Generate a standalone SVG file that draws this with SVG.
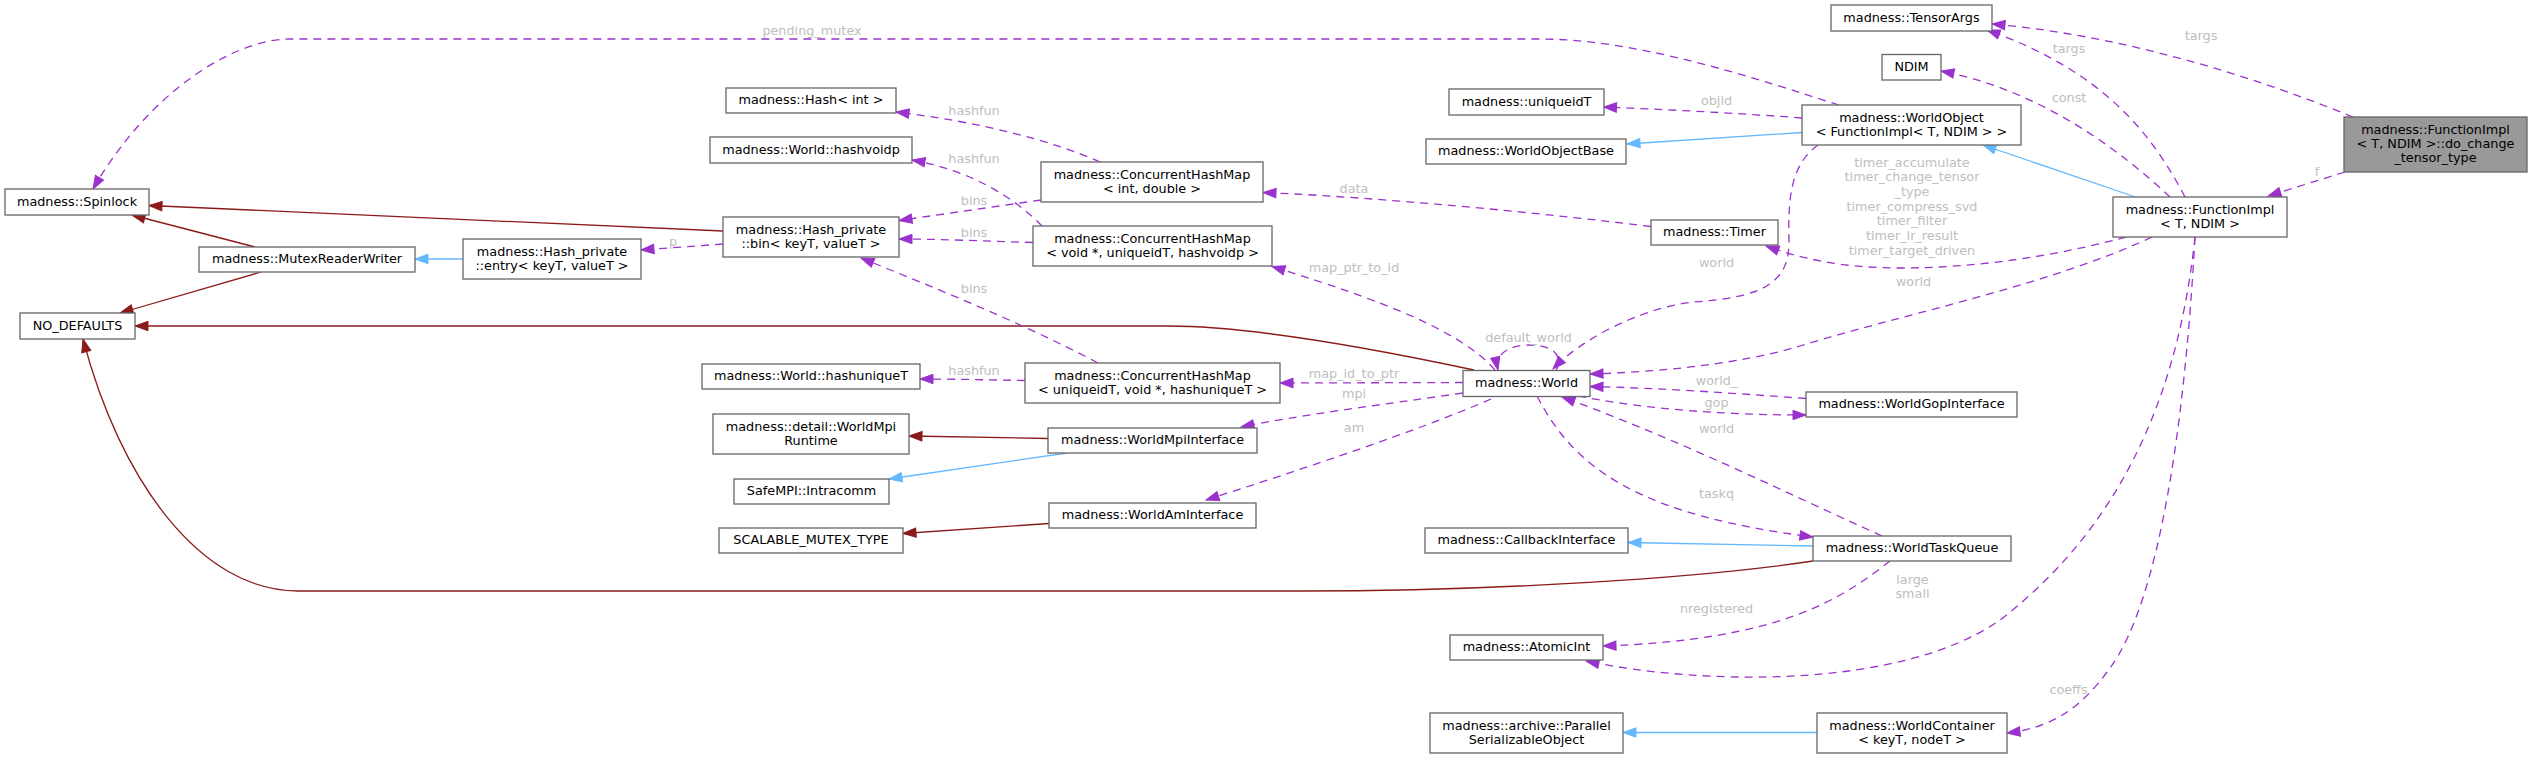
<svg xmlns="http://www.w3.org/2000/svg" width="2532" height="758" viewBox="0 0 2532 758">
<defs>
<style>
.n rect{fill:#fff;stroke:#666;stroke-width:1.3}
.n.main rect{fill:#999}
text{font-family:"DejaVu Sans","Liberation Sans",sans-serif;font-size:12.8px;fill:#000}
.n text{text-anchor:middle}
.lbl{fill:#bebebe;text-anchor:middle}
.e{fill:none;stroke-width:1.3}
.u{stroke:#9a32cd;stroke-dasharray:8,6;marker-end:url(#ap)}
.r{stroke:#8b1a1a;marker-end:url(#ar)}
.b{stroke:#63b8ff;marker-end:url(#ab)}
</style>
<marker id="ap" markerUnits="userSpaceOnUse" markerWidth="15" markerHeight="10" refX="13" refY="5" orient="auto" viewBox="0 0 15 10" overflow="visible"><path d="M0,0.3 L13,5 L0,9.7 Z" fill="#9a32cd" stroke="#9a32cd" stroke-width="1"/></marker>
<marker id="ar" markerUnits="userSpaceOnUse" markerWidth="15" markerHeight="10" refX="13" refY="5" orient="auto" viewBox="0 0 15 10" overflow="visible"><path d="M0,0.3 L13,5 L0,9.7 Z" fill="#8b1a1a" stroke="#8b1a1a" stroke-width="1"/></marker>
<marker id="ab" markerUnits="userSpaceOnUse" markerWidth="15" markerHeight="10" refX="13" refY="5" orient="auto" viewBox="0 0 15 10" overflow="visible"><path d="M0,0.3 L13,5 L0,9.7 Z" fill="#63b8ff" stroke="#63b8ff" stroke-width="1"/></marker>
</defs>
<rect x="0" y="0" width="2532" height="758" fill="#fff"/>

<g id="edges">
<!-- pending_mutex -->
<path class="e u" d="M1839,105 C1760,80 1640,39 1540,39 L290,39 C235,39 150,90 93,189"/>
<text class="lbl" x="812" y="35">pending_mutex</text>
<!-- bin -> Spinlock -->
<path class="e r" d="M723,231 L149,205.5"/>
<!-- MRW -> Spinlock -->
<path class="e r" d="M255,247 L132,215"/>
<!-- MRW -> NO_DEFAULTS -->
<path class="e r" d="M261,272 L120,313"/>
<!-- entry -> MRW -->
<path class="e b" d="M463,259 L415,259"/>
<!-- bin -> entry p -->
<path class="e u" d="M723,244 L641,250"/>
<text class="lbl" x="673" y="245.5">p</text>
<!-- World -> NO_DEFAULTS -->
<path class="e r" d="M1474,370 C1380,350 1250,326 1168,326 L135,326"/>
<!-- TaskQ -> NO_DEFAULTS -->
<path class="e r" d="M1813,561 C1700,578 1500,591 1300,591 L298,591 C200,591 120,480 83,339"/>
<!-- CHMint -> Hash<int> -->
<path class="e u" d="M1100,162 C1050,140 980,122 896,112"/>
<text class="lbl" x="974" y="115">hashfun</text>
<!-- CHMvoid -> hashvoidp -->
<path class="e u" d="M1042,226 C1015,198 970,170 912,160"/>
<text class="lbl" x="974" y="162.5">hashfun</text>
<!-- CHMint -> bin -->
<path class="e u" d="M1041,200 L899,220.5"/>
<text class="lbl" x="974" y="204.5">bins</text>
<!-- CHMvoid -> bin -->
<path class="e u" d="M1033,242.5 C980,241 940,239 899,239"/>
<text class="lbl" x="974" y="237">bins</text>
<!-- CHMuid -> bin -->
<path class="e u" d="M1098,363 C1020,322 940,290 861,258"/>
<text class="lbl" x="974" y="292.5">bins</text>
<!-- CHMuid -> hashuniqueT -->
<path class="e u" d="M1025,380.5 C990,380 960,379 920,379"/>
<text class="lbl" x="974" y="375">hashfun</text>
<!-- Timer -> CHMint data -->
<path class="e u" d="M1651,226.5 C1500,208 1350,196 1263,192.5"/>
<text class="lbl" x="1354" y="193">data</text>
<!-- World -> CHMvoid map_ptr_to_id -->
<path class="e u" d="M1495,370 C1460,330 1380,300 1272,266.5"/>
<text class="lbl" x="1354" y="271.5">map_ptr_to_id</text>
<!-- World -> CHMuid map_id_to_ptr -->
<path class="e u" d="M1463,382.5 L1280,383"/>
<text class="lbl" x="1354" y="377.5">map_id_to_ptr</text>
<!-- World -> MpiIf mpi -->
<path class="e u" d="M1463,393 C1380,405 1300,415 1241,427"/>
<text class="lbl" x="1354" y="398">mpi</text>
<!-- World -> AmIf am -->
<path class="e u" d="M1491,399 C1420,430 1300,470 1206,500"/>
<text class="lbl" x="1354" y="431.5">am</text>
<!-- MpiIf -> Runtime -->
<path class="e r" d="M1048,438.5 L909,436"/>
<!-- MpiIf -> Intracomm -->
<path class="e b" d="M1067,453 L889,479"/>
<!-- AmIf -> SCALABLE -->
<path class="e r" d="M1049,523.5 L903,533.5"/>
<!-- WorldObject -> uniqueidT objid -->
<path class="e u" d="M1802,118 C1750,114 1680,110 1603.5,107"/>
<text class="lbl" x="1716.5" y="104.5">objid</text>
<!-- WorldObject -> WOB -->
<path class="e b" d="M1802,132.5 L1627,144"/>
<!-- WorldObject -> World world -->
<path class="e u" d="M1818,145 C1790,165 1788,200 1789,240 C1790,285 1760,297 1694,302 C1640,308 1580,340 1553,369"/>
<text class="lbl" x="1716.5" y="267">world</text>
<!-- World self loop default_world -->
<path class="e u" d="M1556,371 C1565,352 1548,345 1530,345 C1512,345 1494,352 1498,370"/>
<text class="lbl" x="1528.5" y="341.5">default_world</text>
<!-- FunctionImpl -> Timer -->
<path class="e u" d="M2126,237 C2060,255 1980,268 1900,268 C1840,268 1800,258 1766,246"/>
<text class="lbl" x="1912" y="166.5">timer_accumulate</text>
<text class="lbl" x="1912" y="181.2">timer_change_tensor</text>
<text class="lbl" x="1912" y="195.9">_type</text>
<text class="lbl" x="1912" y="210.6">timer_compress_svd</text>
<text class="lbl" x="1912" y="225.3">timer_filter</text>
<text class="lbl" x="1912" y="240">timer_lr_result</text>
<text class="lbl" x="1912" y="254.7">timer_target_driven</text>
<!-- FunctionImpl -> World world -->
<path class="e u" d="M2152,237 C2050,285 1900,315 1800,346 C1740,364 1660,372 1590,374"/>
<text class="lbl" x="1913.5" y="286">world</text>
<!-- FunctionImpl -> TensorArgs targs -->
<path class="e u" d="M2185,197 C2150,130 2100,70 1987,30"/>
<text class="lbl" x="2069" y="52.5">targs</text>
<!-- FunctionImpl -> NDIM const -->
<path class="e u" d="M2170,197 C2120,150 2040,90 1941,71"/>
<text class="lbl" x="2069" y="102">const</text>
<!-- doChange -> TensorArgs targs -->
<path class="e u" d="M2353,117 C2250,75 2120,35 1992,24"/>
<text class="lbl" x="2201" y="40">targs</text>
<!-- doChange -> FunctionImpl f -->
<path class="e u" d="M2345,172 L2268,196"/>
<text class="lbl" x="2317" y="176">f</text>
<!-- FunctionImpl -> WorldObject -->
<path class="e b" d="M2135.5,197 L1983,145"/>
<!-- FunctionImpl -> AtomicInt large small -->
<path class="e u" d="M2195,237 C2180,380 2130,520 2000,620 C1900,690 1700,685 1586,661"/>
<text class="lbl" x="1912.5" y="583.5">large</text>
<text class="lbl" x="1912.5" y="598">small</text>
<!-- TaskQ -> AtomicInt nregistered -->
<path class="e u" d="M1890,561 C1840,600 1780,640 1603,646"/>
<text class="lbl" x="1716.5" y="613">nregistered</text>
<!-- TaskQ -> Callback -->
<path class="e b" d="M1813,546 L1628,542.5"/>
<!-- World -> TaskQ taskq -->
<path class="e u" d="M1537,396 C1575,470 1640,515 1813,537"/>
<text class="lbl" x="1716.5" y="497.5">taskq</text>
<!-- TaskQ -> World world -->
<path class="e u" d="M1882,536 C1780,490 1680,440 1562,397"/>
<text class="lbl" x="1716.5" y="432.5">world</text>
<!-- GopIf -> World world_ -->
<path class="e u" d="M1806,398.5 C1730,393 1660,388 1590,386.5"/>
<text class="lbl" x="1716.5" y="385">world_</text>
<!-- World -> GopIf gop -->
<path class="e u" d="M1578,396 C1650,410 1730,415 1806,415"/>
<text class="lbl" x="1716.5" y="407">gop</text>
<!-- FunctionImpl -> WorldContainer coeffs -->
<path class="e u" d="M2195,237 C2185,420 2160,600 2110,668 C2080,710 2050,728 2007,733"/>
<text class="lbl" x="2068.5" y="693.5">coeffs</text>
<!-- WorldContainer -> PSO -->
<path class="e b" d="M1817,732.5 L1623,732.5"/>
</g>

<g id="node_spinlock" class="n"><rect x="5" y="189" width="144" height="26"/><text x="77" y="205.5">madness::Spinlock</text></g>
<g id="node_mutexreaderwriter" class="n"><rect x="199" y="247" width="216" height="25"/><text x="307" y="263">madness::MutexReaderWriter</text></g>
<g id="node_entry" class="n"><rect x="463" y="239" width="178" height="40"/><text x="552" y="255.5">madness::Hash_private</text><text x="552" y="269.5">::entry&lt; keyT, valueT &gt;</text></g>
<g id="node_no_defaults" class="n"><rect x="20" y="313" width="115" height="26"/><text x="77.5" y="329.5">NO_DEFAULTS</text></g>
<g id="node_hash_int" class="n"><rect x="726" y="88" width="170" height="25"/><text x="811" y="104">madness::Hash&lt; int &gt;</text></g>
<g id="node_hashvoidp" class="n"><rect x="710" y="137" width="202" height="26"/><text x="811" y="153.5">madness::World::hashvoidp</text></g>
<g id="node_bin" class="n"><rect x="723" y="217" width="176" height="40"/><text x="811" y="233.5">madness::Hash_private</text><text x="811" y="247.5">::bin&lt; keyT, valueT &gt;</text></g>
<g id="node_hashuniquet" class="n"><rect x="702" y="364" width="218" height="25"/><text x="811" y="380">madness::World::hashuniqueT</text></g>
<g id="node_worldmpiruntime" class="n"><rect x="713" y="414" width="196" height="40"/><text x="811" y="430.5">madness::detail::WorldMpi</text><text x="811" y="444.5">Runtime</text></g>
<g id="node_intracomm" class="n"><rect x="734" y="479" width="155" height="25"/><text x="811.5" y="495">SafeMPI::Intracomm</text></g>
<g id="node_scalable" class="n"><rect x="719" y="528" width="184" height="25"/><text x="811" y="544">SCALABLE_MUTEX_TYPE</text></g>
<g id="node_chm_int" class="n"><rect x="1041" y="162" width="222" height="40"/><text x="1152" y="178.5">madness::ConcurrentHashMap</text><text x="1152" y="192.5">&lt; int, double &gt;</text></g>
<g id="node_chm_void" class="n"><rect x="1033" y="226" width="239" height="40"/><text x="1152.5" y="242.5">madness::ConcurrentHashMap</text><text x="1152.5" y="256.5">&lt; void *, uniqueidT, hashvoidp &gt;</text></g>
<g id="node_chm_uid" class="n"><rect x="1025" y="363" width="255" height="40"/><text x="1152.5" y="379.5">madness::ConcurrentHashMap</text><text x="1152.5" y="393.5">&lt; uniqueidT, void *, hashuniqueT &gt;</text></g>
<g id="node_mpiif" class="n"><rect x="1048" y="428" width="209" height="25"/><text x="1152.5" y="444">madness::WorldMpiInterface</text></g>
<g id="node_amif" class="n"><rect x="1049" y="503" width="207" height="25"/><text x="1152.5" y="519">madness::WorldAmInterface</text></g>
<g id="node_uniqueidt" class="n"><rect x="1449" y="89" width="155" height="26"/><text x="1526.5" y="105.5">madness::uniqueidT</text></g>
<g id="node_wob" class="n"><rect x="1426" y="139" width="200" height="25"/><text x="1526" y="155">madness::WorldObjectBase</text></g>
<g id="node_world" class="n"><rect x="1463" y="370.5" width="127" height="26"/><text x="1526.5" y="387">madness::World</text></g>
<g id="node_callback" class="n"><rect x="1425" y="528" width="203" height="25"/><text x="1526.5" y="544">madness::CallbackInterface</text></g>
<g id="node_atomicint" class="n"><rect x="1450" y="635" width="153" height="25"/><text x="1526.5" y="651">madness::AtomicInt</text></g>
<g id="node_pso" class="n"><rect x="1430" y="713" width="193" height="40"/><text x="1526.5" y="729.5">madness::archive::Parallel</text><text x="1526.5" y="743.5">SerializableObject</text></g>
<g id="node_timer" class="n"><rect x="1651" y="220" width="127" height="25"/><text x="1714.5" y="236">madness::Timer</text></g>
<g id="node_tensorargs" class="n"><rect x="1831" y="5" width="161" height="26"/><text x="1911.5" y="21.5">madness::TensorArgs</text></g>
<g id="node_ndim" class="n"><rect x="1882" y="54.5" width="59" height="25.5"/><text x="1911.5" y="71">NDIM</text></g>
<g id="node_worldobject" class="n"><rect x="1802" y="105" width="219" height="40"/><text x="1911.5" y="121.5">madness::WorldObject</text><text x="1911.5" y="135.5">&lt; FunctionImpl&lt; T, NDIM &gt; &gt;</text></g>
<g id="node_gopif" class="n"><rect x="1806" y="392" width="211" height="25"/><text x="1911.5" y="408">madness::WorldGopInterface</text></g>
<g id="node_taskq" class="n"><rect x="1813" y="536" width="198" height="25"/><text x="1912" y="552">madness::WorldTaskQueue</text></g>
<g id="node_worldcontainer" class="n"><rect x="1817" y="713" width="190" height="40"/><text x="1912" y="729.5">madness::WorldContainer</text><text x="1912" y="743.5">&lt; keyT, nodeT &gt;</text></g>
<g id="node_functionimpl" class="n"><rect x="2113" y="197" width="174" height="40"/><text x="2200" y="213.5">madness::FunctionImpl</text><text x="2200" y="227.5">&lt; T, NDIM &gt;</text></g>
<g id="node_do_change" class="n main"><rect x="2344" y="117" width="183" height="55"/><text x="2435.5" y="133.5">madness::FunctionImpl</text><text x="2435.5" y="147.8">&lt; T, NDIM &gt;::do_change</text><text x="2435.5" y="162.2">_tensor_type</text></g>
</svg>
